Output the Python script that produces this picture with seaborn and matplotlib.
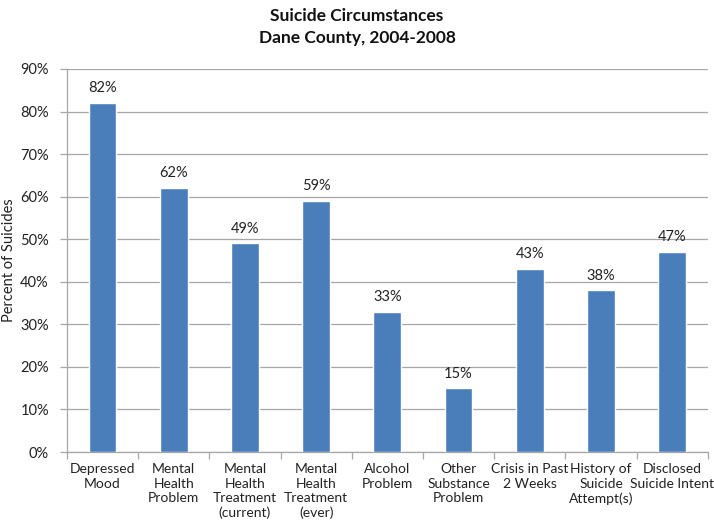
import matplotlib
matplotlib.use("Agg")
import matplotlib.pyplot as plt
import seaborn as sns
import pandas as pd

categories = [
    "Depressed\nMood",
    "Mental\nHealth\nProblem",
    "Mental\nHealth\nTreatment\n(current)",
    "Mental\nHealth\nTreatment\n(ever)",
    "Alcohol\nProblem",
    "Other\nSubstance\nProblem",
    "Crisis in Past\n2 Weeks",
    "History of\nSuicide\nAttempt(s)",
    "Disclosed\nSuicide Intent",
]
percents = [82, 62, 49, 59, 33, 15, 43, 38, 47]
y_ticks = [0, 10, 20, 30, 40, 50, 60, 70, 80, 90]

df = pd.DataFrame({"category": categories, "percent": percents})

sns.set_theme(style="white")
plt.rcParams["font.family"] = ["Lato", "DejaVu Sans"]

fig = plt.figure(figsize=(7.14, 5.21), dpi=100)
ax = fig.add_axes([0.0938, 0.1324, 0.8975, 0.7352])

sns.barplot(data=df, x="category", y="percent", color="#4A7EBB",
            width=0.39, saturation=1, ax=ax, zorder=3)

ax.set_ylim(0, 90)
ax.set_xlim(-0.5, len(categories) - 0.5)
ax.set_yticks(y_ticks)
ax.set_yticklabels([f"{v}%" for v in y_ticks], fontsize=10.5, color="#222222")
ax.yaxis.grid(True, color="#A6A6A6", linewidth=0.9, zorder=0)
ax.set_axisbelow(True)

# category boundary tick marks below the axis
ax.set_xticks([i + 0.5 for i in range(-1, len(categories))], minor=True)
ax.tick_params(axis="x", which="minor", length=5, color="#A6A6A6", width=0.9, bottom=True)
ax.tick_params(axis="x", which="major", length=0, labelsize=10, labelcolor="#222222", pad=8)
for lbl in ax.get_xticklabels():
    lbl.set_linespacing(1.25)
ax.tick_params(axis="y", which="major", length=5, color="#A6A6A6", width=0.9, left=True, pad=8)

for side in ["top", "right"]:
    ax.spines[side].set_visible(False)
for side in ["left", "bottom"]:
    ax.spines[side].set_color("#A6A6A6")
    ax.spines[side].set_linewidth(0.9)

ax.set_xlabel("")
ax.set_ylabel("")
fig.text(9 / 714, 0.5, "Percent of Suicides", rotation=90, ha="center", va="center",
         fontsize=10.5, color="#222222")

for i, v in enumerate(percents):
    ax.text(i, v + 1.8, f"{v}%", ha="center", va="bottom", fontsize=10.5, color="#222222")

fig.suptitle("Suicide Circumstances\nDane County, 2004-2008", fontsize=12.5,
             fontweight="bold", y=0.985, linespacing=1.5, color="#111111")

fig.savefig("out.png", dpi=100)
